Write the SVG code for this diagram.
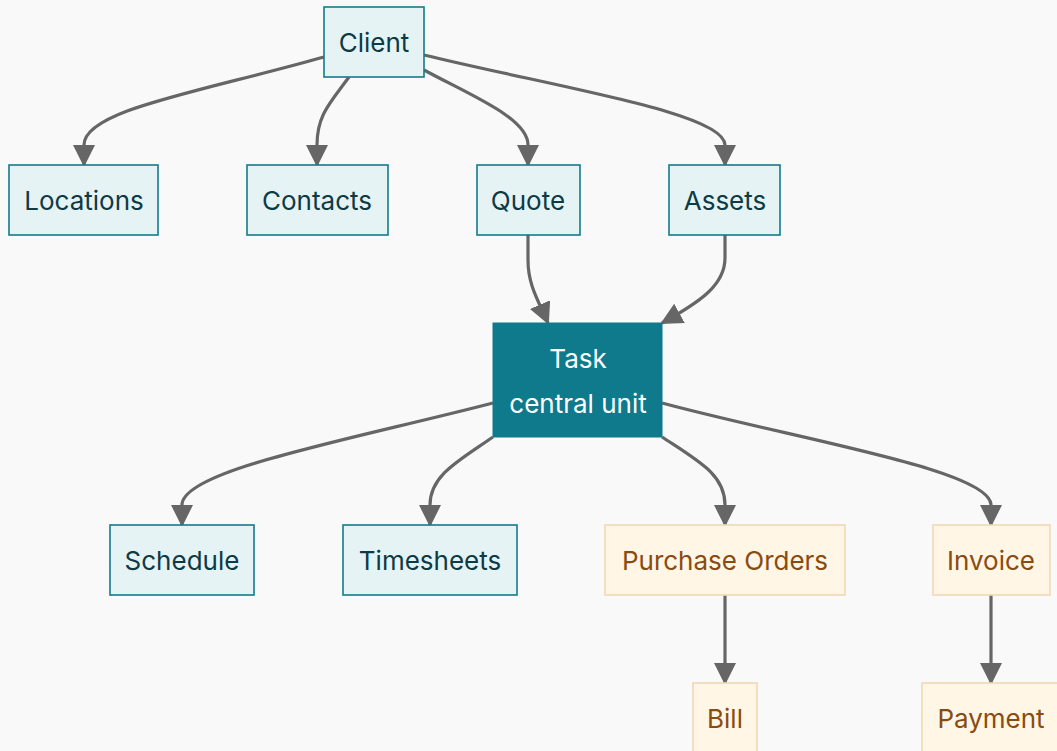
<svg xmlns="http://www.w3.org/2000/svg" width="1057" height="751" viewBox="0 0 1057 751">
<style>
.n rect{fill:#e6f3f5;stroke:#167b8b;stroke-width:1.6}
.n text{fill:#0d3b45}
.o rect{fill:#fff6e6;stroke:#f0d9b5;stroke-width:1.6}
.o text{fill:#8a4b10}
.t rect{fill:#0e7a8c;stroke:#0e7a8c}
.t text{fill:#ffffff}
text{font-family:Inter,"Noto Sans","Liberation Sans",sans-serif;font-size:26px;text-anchor:middle;dominant-baseline:central}
.e path{fill:none;stroke:#666666;stroke-width:3.2;marker-end:url(#a)}
</style>
<defs>
<marker id="a" markerUnits="userSpaceOnUse" markerWidth="22" markerHeight="22" refX="20" refY="11" orient="auto" viewBox="0 0 22 22">
<path d="M0,0 L22,11 L0,22 z" fill="#666666"/>
</marker>
</defs>
<rect width="1057" height="751" fill="#f9f9f9"/>
<g class="e">
<path d="M324,57 C200,92 84,110 84,145 L84,165"/>
<path d="M349,77 C330,103 317,115 317,145 L317,165"/>
<path d="M424,70 C470,95 528,118 528,145 L528,165"/>
<path d="M424,55 C560,88 725,113 725,145 L725,165"/>
<path d="M528,235 L528,260 C528,285 538,300 548,323"/>
<path d="M725,235 L725,258 C725,285 700,302 662,323"/>
<path d="M493,403 C350,440 182,470 182,505 L182,525"/>
<path d="M493,437 C460,460 430,475 430,505 L430,525"/>
<path d="M662,437 C700,462 725,475 725,505 L725,525"/>
<path d="M662,403 C800,440 991,470 991,505 L991,525"/>
<path d="M725,595 L725,683"/>
<path d="M991,595 L991,683"/>
</g>
<g id="client" class="n"><rect x="324" y="7" width="100" height="70"/><text x="374" y="42">Client</text></g>
<g id="locations" class="n"><rect x="9" y="165" width="149" height="70"/><text x="84" y="200">Locations</text></g>
<g id="contacts" class="n"><rect x="247" y="165" width="141" height="70"/><text x="317" y="200">Contacts</text></g>
<g id="quote" class="n"><rect x="477" y="165" width="103" height="70"/><text x="528" y="200">Quote</text></g>
<g id="assets" class="n"><rect x="669" y="165" width="111" height="70"/><text x="725" y="200">Assets</text></g>
<g id="task" class="t"><rect x="493" y="323" width="169" height="114"/><text x="578" y="358">Task</text><text x="578" y="403">central unit</text></g>
<g id="schedule" class="n"><rect x="110" y="525" width="144" height="70"/><text x="182" y="560">Schedule</text></g>
<g id="timesheets" class="n"><rect x="343" y="525" width="174" height="70"/><text x="430" y="560">Timesheets</text></g>
<g id="po" class="o"><rect x="605" y="525" width="240" height="70"/><text x="725" y="560">Purchase Orders</text></g>
<g id="invoice" class="o"><rect x="933" y="525" width="117" height="70"/><text x="991" y="560">Invoice</text></g>
<g id="bill" class="o"><rect x="693" y="683" width="64" height="70"/><text x="725" y="718">Bill</text></g>
<g id="payment" class="o"><rect x="922" y="683" width="140" height="70"/><text x="991" y="718">Payment</text></g>
</svg>
